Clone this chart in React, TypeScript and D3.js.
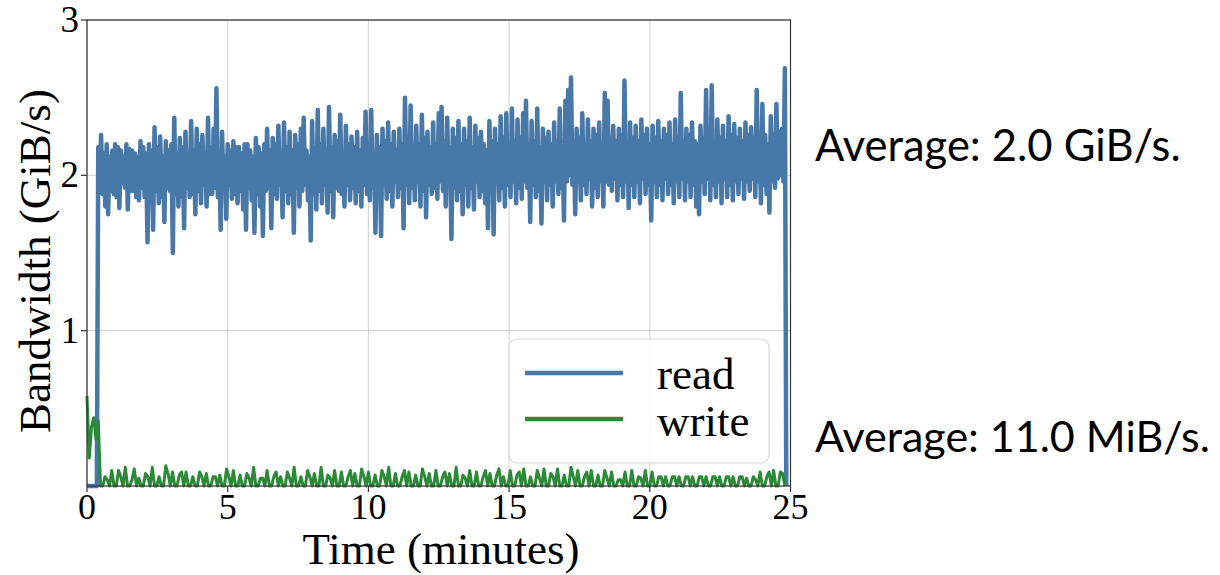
import React from "react";
import * as d3 from "d3";

// Tamanho da figura
const WIDTH = 1220;
const HEIGHT = 575;

// Área do gráfico (pixels)
const LEFT = 87;
const RIGHT = 790.5;
const TOP = 20;
const BOTTOM = 486;

// Eixos
const xTicks: number[] = [0, 5, 10, 15, 20, 25];
const yTicks: number[] = [1, 2, 3];

// Leitura: uma amostra a cada 0.05 minuto, começando em t = 0
const READ_STEP = 0.05;
const readValues: number[] = [
  0, 0, 0, 0, 0, 0, 0, 0,
  2.18, 1.92, 2.26, 1.88, 2.14, 1.80, 2.20, 1.75, 2.12, 1.90, 2.16, 1.88, 2.20, 1.86, 2.18, 1.79, 2.16, 1.95, 2.12, 1.92,
  2.20, 1.78, 2.17, 1.90, 2.16, 1.90, 2.14, 1.86, 2.12, 1.84, 2.22, 1.92, 2.18, 1.86, 2.14, 1.57, 2.20, 1.88, 2.16, 1.65,
  2.31, 1.90, 2.18, 1.82, 2.25, 1.86, 2.12, 1.70, 2.22, 1.92, 2.16, 1.90, 2.20, 1.50, 2.37, 1.88, 2.14, 1.80, 2.24, 1.86,
  2.18, 1.66, 2.28, 1.92, 2.12, 1.86, 2.35, 1.88, 2.16, 1.75, 2.30, 1.90, 2.20, 1.82, 2.26, 1.94, 2.14, 1.80, 2.37, 1.88,
  2.18, 1.88, 2.30, 1.92, 2.56, 1.86, 2.14, 1.65, 2.28, 1.90, 2.12, 1.72, 2.20, 1.94, 2.16, 1.85, 2.22, 1.88, 2.18, 1.82,
  2.18, 1.90, 2.14, 1.78, 2.20, 1.65, 2.20, 1.92, 2.16, 1.84, 2.12, 1.63, 2.24, 1.88, 2.18, 1.80, 2.14, 1.61, 2.20, 1.90,
  2.30, 1.92, 2.16, 1.66, 2.24, 1.88, 2.20, 1.85, 2.32, 1.94, 2.14, 1.73, 2.34, 1.90, 2.18, 1.82, 2.28, 1.88, 2.16, 1.63,
  2.26, 1.92, 2.20, 1.80, 2.30, 1.90, 2.37, 1.94, 2.16, 1.84, 2.12, 1.58, 2.35, 1.88, 2.18, 1.78, 2.42, 1.90, 2.20, 1.82,
  2.30, 1.94, 2.16, 1.76, 2.44, 1.90, 2.18, 1.73, 2.26, 1.92, 2.22, 1.90, 2.39, 1.88, 2.14, 1.80, 2.32, 1.94, 2.20, 1.84,
  2.25, 1.92, 2.18, 1.82, 2.28, 1.90, 2.16, 1.80, 2.24, 1.94, 2.41, 1.88, 2.20, 1.84, 2.42, 1.92, 2.14, 1.63, 2.26, 1.90,
  2.18, 1.61, 2.30, 1.94, 2.22, 1.85, 2.34, 1.90, 2.20, 1.80, 2.28, 1.96, 2.16, 1.86, 2.30, 1.92, 2.20, 1.66, 2.50, 1.94,
  2.22, 1.82, 2.45, 1.92, 2.18, 1.84, 2.32, 1.96, 2.20, 1.80, 2.39, 1.90, 2.24, 1.73, 2.28, 1.94, 2.18, 1.88, 2.34, 1.92,
  2.20, 1.85, 2.40, 1.96, 2.44, 1.90, 2.22, 1.80, 2.37, 1.94, 2.18, 1.59, 2.30, 1.92, 2.24, 1.84, 2.35, 1.90, 2.20, 1.75,
  2.30, 1.94, 2.22, 1.80, 2.37, 1.92, 2.18, 1.78, 2.32, 1.96, 2.24, 1.86, 2.28, 1.90, 2.20, 1.82, 2.16, 1.66, 2.35, 1.94,
  2.22, 1.62, 2.30, 1.96, 2.20, 1.84, 2.38, 1.92, 2.24, 1.80, 2.40, 1.94, 2.18, 1.86, 2.43, 1.96, 2.22, 1.82, 2.36, 1.92,
  2.24, 1.85, 2.40, 1.96, 2.48, 1.92, 2.20, 1.70, 2.35, 1.94, 2.22, 1.86, 2.43, 1.90, 2.18, 1.69, 2.30, 1.96, 2.24, 1.84,
  2.28, 1.94, 2.20, 1.80, 2.34, 1.96, 2.22, 1.88, 2.43, 1.92, 2.18, 1.71, 2.48, 1.96, 2.55, 2.00, 2.63, 1.94, 2.22, 1.75,
  2.30, 1.96, 2.24, 1.84, 2.40, 1.94, 2.20, 1.88, 2.36, 1.98, 2.22, 1.80, 2.30, 1.92, 2.26, 1.86, 2.34, 1.96, 2.20, 1.80,
  2.53, 1.96, 2.48, 1.94, 2.24, 1.90, 2.32, 1.98, 2.22, 1.84, 2.30, 1.94, 2.26, 1.86, 2.61, 1.96, 2.20, 1.79, 2.34, 1.94,
  2.24, 1.86, 2.32, 1.96, 2.22, 1.82, 2.36, 1.98, 2.26, 1.88, 2.30, 1.94, 2.20, 1.71, 2.32, 1.96, 2.24, 1.86, 2.35, 1.94,
  2.22, 1.84, 2.30, 1.98, 2.26, 1.88, 2.34, 1.94, 2.20, 1.82, 2.36, 1.96, 2.24, 1.86, 2.53, 1.98, 2.22, 1.84, 2.30, 1.96,
  2.26, 1.86, 2.34, 1.94, 2.22, 1.80, 2.20, 1.75, 2.32, 1.96, 2.24, 1.88, 2.55, 1.98, 2.26, 1.84, 2.58, 1.94, 2.22, 1.86,
  2.36, 1.96, 2.24, 1.82, 2.32, 1.98, 2.22, 1.86, 2.38, 1.94, 2.26, 1.84, 2.33, 1.96, 2.24, 1.88, 2.30, 1.98, 2.22, 1.85,
  2.34, 1.96, 2.26, 1.90, 2.31, 1.98, 2.24, 1.86, 2.55, 1.96, 2.22, 1.82, 2.46, 1.94, 2.26, 1.88, 2.20, 1.76, 2.38, 1.96,
  2.26, 1.92, 2.46, 1.98, 2.28, 2.00, 2.30, 1.96, 2.69,
  0,
];

// Escrita: uma amostra a cada 0.08 minuto, começando em t = 0
const WRITE_STEP = 0.08;
const writeValues: number[] = [
  0.58, 0.18, 0.38, 0.44, 0.30, 0.42, 0, 0,
  0.06, 0.04, 0, 0.10, 0, 0, 0.10, 0.06, 0, 0.12, 0, 0, 0.04, 0.11, 0,
  0.05, 0, 0, 0.08, 0.06, 0, 0.12, 0, 0, 0.06, 0, 0, 0.13, 0.08, 0,
  0.09, 0, 0, 0.07, 0.09, 0, 0.09, 0, 0, 0.06, 0, 0, 0.09, 0.06, 0,
  0.08, 0, 0, 0.06, 0.06, 0, 0.07, 0, 0, 0.11, 0.06, 0, 0.10, 0, 0,
  0.07, 0, 0, 0.08, 0.05, 0, 0.12, 0, 0, 0.05, 0.05, 0, 0.10, 0, 0,
  0.06, 0.09, 0, 0.06, 0, 0, 0.09, 0.05, 0, 0.12, 0, 0, 0.06, 0, 0,
  0.10, 0.06, 0, 0.08, 0, 0, 0.12, 0, 0, 0.07, 0.05, 0, 0.10, 0, 0,
  0.09, 0, 0, 0.06, 0.10, 0, 0.08, 0, 0, 0.11, 0.06, 0, 0.09, 0, 0,
  0.07, 0, 0, 0.10, 0.06, 0, 0.12, 0, 0, 0.08, 0, 0, 0.06, 0.10, 0,
  0.09, 0, 0, 0.07, 0, 0, 0.11, 0.06, 0, 0.08, 0, 0, 0.10, 0, 0,
  0.06, 0.09, 0, 0.08, 0, 0, 0.12, 0, 0, 0.07, 0.05, 0, 0.10, 0, 0,
  0.09, 0, 0, 0.06, 0.10, 0, 0.08, 0, 0, 0.07, 0.11, 0, 0.06, 0, 0,
  0.10, 0, 0, 0.07, 0.09, 0, 0.11, 0, 0, 0.06, 0, 0, 0.10, 0.05, 0,
  0.11, 0, 0, 0.08, 0.06, 0, 0.11, 0, 0, 0.07, 0, 0, 0.12, 0.06, 0,
  0.10, 0, 0, 0.06, 0.09, 0, 0.10, 0, 0, 0.07, 0, 0, 0.10, 0.05, 0,
  0.09, 0, 0, 0.04, 0.04, 0, 0.09, 0, 0, 0.10, 0, 0, 0.06, 0.05, 0,
  0.10, 0, 0, 0.09, 0, 0, 0.06, 0.06, 0, 0.06, 0, 0, 0.06, 0.06, 0,
  0.06, 0, 0, 0.06, 0.06, 0, 0.06, 0, 0, 0.06, 0.06, 0, 0.06, 0, 0,
  0.06, 0.06, 0, 0.06, 0, 0, 0.06, 0.06, 0, 0.06, 0, 0, 0.06, 0.06, 0,
  0.05, 0, 0, 0.06, 0.04, 0, 0.09, 0, 0, 0.06, 0.09, 0, 0.10, 0, 0,
  0.09, 0.08, 0,
];

const seriesNames: string[] = ["read", "write"];
const seriesColors: string[] = ["#4878a8", "#2b8a38"];
const averageNotes: string[] = ["Average: 2.0 GiB/s.", "Average: 11.0 MiB/s."];

const SERIF = "'Liberation Serif', 'Times New Roman', serif";
const SANS = "Lato, 'Noto Sans', sans-serif";

const App: React.FC = () => {
  const x = d3.scaleLinear().domain([0, 25]).range([LEFT, RIGHT]);
  const y = d3.scaleLinear().domain([0, 3]).range([BOTTOM, TOP]);

  const line = d3
    .line<[number, number]>()
    .x((d) => x(d[0]))
    .y((d) => y(d[1]));

  const readPts = readValues.map((v, i) => [i * READ_STEP, v] as [number, number]);
  const writePts = writeValues.map((v, i) => [i * WRITE_STEP, v] as [number, number]);

  return (
    <svg
      width={WIDTH}
      height={HEIGHT}
      style={{ position: "absolute", left: 0, top: 0, background: "#fff" }}
    >
      {/* grade */}
      {xTicks.map((t) => (
        <line key={"gx" + t} x1={x(t)} x2={x(t)} y1={TOP} y2={BOTTOM} stroke="#cfcfcf" strokeWidth={1} />
      ))}
      {yTicks.map((t) => (
        <line key={"gy" + t} x1={LEFT} x2={RIGHT} y1={y(t)} y2={y(t)} stroke="#cfcfcf" strokeWidth={1} />
      ))}

      {/* séries */}
      <path d={line(readPts) || ""} fill="none" stroke={seriesColors[0]} strokeWidth={4.5} strokeLinejoin="round" />
      <path d={line(writePts) || ""} fill="none" stroke={seriesColors[1]} strokeWidth={3} strokeLinejoin="round" />

      {/* moldura */}
      <rect x={LEFT} y={TOP} width={RIGHT - LEFT} height={BOTTOM - TOP} fill="none" stroke="#333" strokeWidth={1.2} />

      {/* ticks e rótulos do eixo x */}
      {xTicks.map((t) => (
        <g key={"tx" + t}>
          <line x1={x(t)} x2={x(t)} y1={BOTTOM} y2={BOTTOM + 6} stroke="#333" strokeWidth={1.2} />
          <text x={x(t)} y={519} textAnchor="middle" fontFamily={SERIF} fontSize={36}>
            {t}
          </text>
        </g>
      ))}
      {/* ticks e rótulos do eixo y */}
      {yTicks.map((t) => (
        <g key={"ty" + t}>
          <line x1={LEFT - 6} x2={LEFT} y1={y(t)} y2={y(t)} stroke="#333" strokeWidth={1.2} />
          <text x={79} y={y(t) + 12} textAnchor="end" fontFamily={SERIF} fontSize={37}>
            {t}
          </text>
        </g>
      ))}

      <text x={441} y={564} textAnchor="middle" fontFamily={SERIF} fontSize={45}>
        Time (minutes)
      </text>
      <text
        transform={`translate(50, ${(TOP + BOTTOM) / 2 + 8}) rotate(-90)`}
        textAnchor="middle"
        fontFamily={SERIF}
        fontSize={45}
      >
        Bandwidth (GiB/s)
      </text>

      {/* legenda */}
      <g>
        <rect x={509} y={339} width={260} height={124} rx={8} fill="#fff" fillOpacity={0.85} stroke="#d8d8d8" strokeWidth={1.2} />
        {seriesNames.map((name, i) => (
          <g key={name}>
            <line x1={525} x2={623} y1={373 + i * 46} y2={373 + i * 46} stroke={seriesColors[i]} strokeWidth={4.5} />
            <text x={657} y={389 + i * 47} fontFamily={SERIF} fontSize={45}>
              {name}
            </text>
          </g>
        ))}
      </g>

      {/* médias */}
      <text x={815} y={161} fontFamily={SANS} fontSize={43.5}>
        {averageNotes[0]}
      </text>
      <text x={815} y={452} fontFamily={SANS} fontSize={43}>
        {averageNotes[1]}
      </text>
    </svg>
  );
};

export default App;
